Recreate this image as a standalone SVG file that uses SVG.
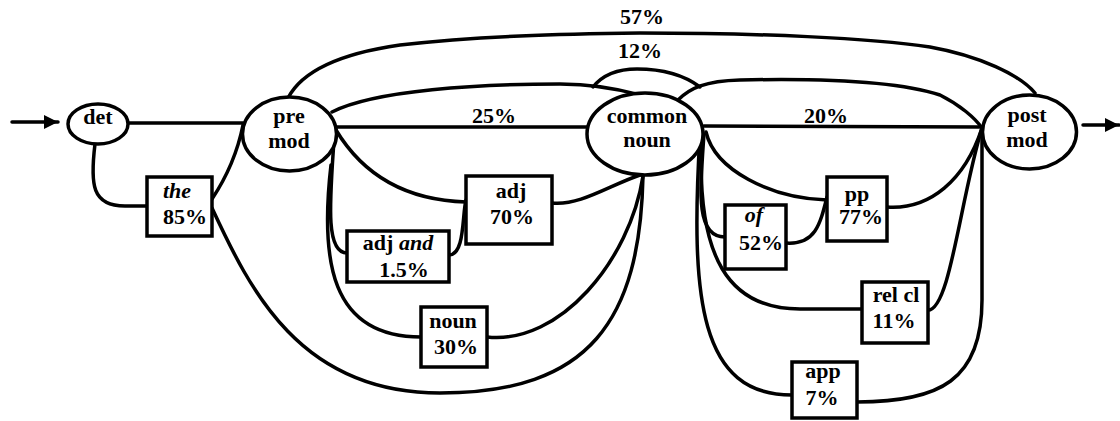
<svg xmlns="http://www.w3.org/2000/svg" width="1120" height="421" viewBox="0 0 1120 421">
<style>
.c{fill:none;stroke:#000;stroke-width:3.5;stroke-linecap:round}
.n{fill:#fff;stroke:#000;stroke-width:3.5}
.t{font-weight:bold;font-size:22px;fill:#000;text-anchor:middle}
.i{font-style:italic}
</style>
<defs>
<marker id="ah" viewBox="0 0 10 10" refX="10" refY="5" markerWidth="4" markerHeight="4" orient="auto" markerUnits="strokeWidth">
<path d="M0,0 L10,5 L0,10 z" fill="#000"/>
</marker>
</defs>
<g id="connectors">
<line class="c" x1="12" y1="122" x2="58" y2="122" marker-end="url(#ah)"/>
<line class="c" x1="1083" y1="125" x2="1119" y2="125" marker-end="url(#ah)"/>
<line class="c" x1="128" y1="123" x2="243" y2="123"/>
<path class="c" d="M95,144 C90,185 92,206 125,206 L147,206"/>
<path class="c" d="M212,199 C228,175 238,150 243,125"/>
<path class="c" d="M212,208 C250,290 300,393 440,393 C590,393 640,320 643,176"/>
<line class="c" x1="337" y1="127" x2="588" y2="127"/>
<path class="c" d="M288,98 C300,75 330,55 400,45 C480,36 560,34 640,33 C760,33 870,38 930,47 C980,56 1020,75 1035,93"/>
<path class="c" d="M332,112 C375,90 480,84 560,84 C590,84 615,88 640,95"/>
<path class="c" d="M593,87 C605,72 622,69 637,69 C655,69 680,72 700,87"/>
<path class="c" d="M678,100 C690,88 705,81 740,80 C830,78 900,82 940,95 C960,105 975,118 982,128"/>
<line class="c" x1="704" y1="126" x2="982" y2="127"/>
<path class="c" d="M336,130 C360,170 400,200 466,202"/>
<path class="c" d="M552,203 C580,206 610,185 640,175"/>
<path class="c" d="M334,140 C330,200 325,253 347,253"/>
<path class="c" d="M449,255 C465,255 462,215 466,200"/>
<path class="c" d="M331,165 C320,260 330,337 421,337"/>
<path class="c" d="M487,337 C560,345 630,260 643,176"/>
<path class="c" d="M706,132 C715,170 770,198 827,200"/>
<path class="c" d="M887,207 C930,210 965,180 982,128"/>
<path class="c" d="M704,134 C700,190 695,237 725,237"/>
<path class="c" d="M786,243 C815,245 820,225 827,197"/>
<path class="c" d="M702,134 C695,260 730,309 800,309 L862,309"/>
<path class="c" d="M928,310 C950,310 960,200 982,128"/>
<path class="c" d="M700,134 C690,300 700,395 792,395"/>
<path class="c" d="M857,402 C940,402 982,380 982,300 L982,130"/>
</g>
<g font-family="Liberation Serif, Times New Roman, DejaVu Serif, serif">
<g id="labels">
<text class="t" x="642" y="24">57%</text>
<text class="t" x="640" y="58">12%</text>
<text class="t" x="494" y="123">25%</text>
<text class="t" x="826" y="123">20%</text>
</g>
<g id="det"><ellipse class="n" cx="98" cy="124" rx="30" ry="20"/><text class="t" x="98" y="124">det</text></g>
<g id="premod"><ellipse class="n" cx="289.5" cy="134" rx="47" ry="37"/><text class="t" x="289" y="123">pre</text><text class="t" x="289" y="148">mod</text></g>
<g id="commonnoun"><ellipse class="n" cx="645" cy="134" rx="58" ry="41"/><text class="t" x="647" y="123">common</text><text class="t" x="647" y="147">noun</text></g>
<g id="postmod"><ellipse class="n" cx="1029.5" cy="132" rx="47" ry="37"/><text class="t" x="1027" y="122">post</text><text class="t" x="1027" y="147">mod</text></g>
<g id="the"><rect class="n" x="147" y="177" width="65" height="59"/><text class="t i" x="163" y="198" text-anchor="start" style="text-anchor:start">the</text><text class="t" x="163" y="224" style="text-anchor:start">85%</text></g>
<g id="adj"><rect class="n" x="466" y="176" width="86" height="68"/><text class="t" x="511" y="198">adj</text><text class="t" x="512" y="224">70%</text></g>
<g id="adjand"><rect class="n" x="347" y="231" width="102" height="51"/><text class="t" x="398" y="250">adj <tspan class="i">and</tspan></text><text class="t" x="404" y="277">1.5%</text></g>
<g id="noun"><rect class="n" x="421" y="307" width="66" height="60"/><text class="t" x="453" y="328">noun</text><text class="t" x="456" y="354">30%</text></g>
<g id="of"><rect class="n" x="725" y="205" width="61" height="64"/><text class="t i" x="754" y="222">of</text><text class="t" x="761" y="250">52%</text></g>
<g id="pp"><rect class="n" x="827" y="177" width="60" height="64"/><text class="t" x="857" y="201">pp</text><text class="t" x="861" y="224">77%</text></g>
<g id="relcl"><rect class="n" x="862" y="282" width="66" height="61"/><text class="t" x="896" y="302">rel cl</text><text class="t" x="894" y="328">11%</text></g>
<g id="app"><rect class="n" x="792" y="362" width="65" height="56"/><text class="t" x="823" y="378">app</text><text class="t" x="822" y="405">7%</text></g>
</g>
</svg>
